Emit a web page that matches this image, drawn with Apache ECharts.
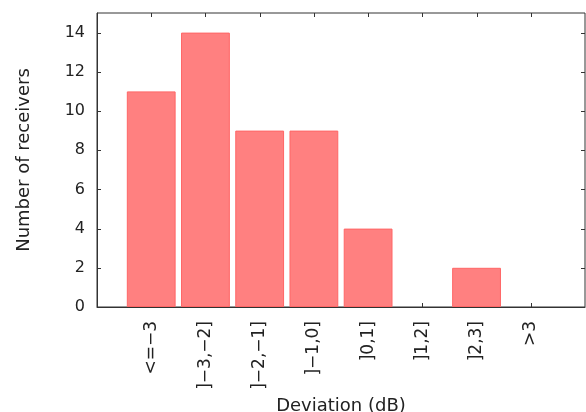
<!DOCTYPE html>
<html>
<head>
<meta charset="utf-8">
<script src="https://cdn.jsdelivr.net/npm/echarts@6/dist/echarts.min.js"></script>
<style>
html, body { margin: 0; padding: 0; background: #fff; }
#main { width: 586px; height: 412px; }
</style>
</head>
<body>
<div id="main"></div>
<script>
// 偏差区间
var categories = ['<=\u22123', ']\u22123,\u22122]', ']\u22122,\u22121]', ']\u22121,0]', ']0,1]', ']1,2]', ']2,3]', '>3'];
// 接收机数量
var counts = [11, 14, 9, 9, 4, 0, 2, 0];
var yTicks = [0, 2, 4, 6, 8, 10, 12, 14];

var font = "'DejaVu Sans', sans-serif";
var tickLen = 4;

// 两端留空，与原图一致
var axisData = [''].concat(categories, ['']);
var barData = [null].concat(counts.map(function(v) {
	return v === 0 ? '-' : v;
}), [null]);

// 朝内的刻度（上下、左右都画）
function tickLine(x1, y1, x2, y2) {
	return {
		type : 'line',
		shape : { x1 : x1, y1 : y1, x2 : x2, y2 : y2 },
		style : { stroke : '#333', lineWidth : 1 }
	};
}
function renderXTick(params, api) {
	var cs = params.coordSys;
	var x = Math.round(api.coord([api.value(0), 0])[0]) + 0.5;
	return {
		type : 'group',
		children : [
			tickLine(x, cs.y + cs.height, x, cs.y + cs.height - tickLen),
			tickLine(x, cs.y, x, cs.y + tickLen)
		]
	};
}
function renderYTick(params, api) {
	var cs = params.coordSys;
	var y = Math.round(api.coord([0, api.value(1)])[1]) + 0.5;
	return {
		type : 'group',
		children : [
			tickLine(cs.x, y, cs.x + tickLen, y),
			tickLine(cs.x + cs.width, y, cs.x + cs.width - tickLen, y)
		]
	};
}

var chart = echarts.init(document.getElementById('main'));
var option = {
	animation : false,
	grid : {
		left : 97,
		right : 1,
		top : 13,
		bottom : 105,
		show : true,
		borderColor : '#333',
		borderWidth : 1,
		containLabel : false,
		outerBoundsMode : 'none'
	},
	xAxis : {
		type : 'category',
		data : axisData,
		boundaryGap : false,
		name : 'Deviation (dB)',
		nameLocation : 'middle',
		nameGap : 86,
		nameTextStyle : {
			fontFamily : font,
			fontSize : 18,
			color : '#222'
		},
		axisLine : {
			onZero : false,
			lineStyle : { color : '#333' }
		},
		axisTick : { show : false },
		axisLabel : {
			rotate : 90,
			margin : 14,
			interval : 0,
			fontFamily : font,
			fontSize : 17,
			color : '#222'
		},
		splitLine : { show : false }
	},
	yAxis : {
		type : 'value',
		min : 0,
		max : 15,
		interval : 2,
		name : 'Number of receivers',
		nameLocation : 'middle',
		nameGap : 64,
		nameTextStyle : {
			fontFamily : font,
			fontSize : 18,
			color : '#222'
		},
		axisLine : {
			show : true,
			onZero : false,
			lineStyle : { color : '#333' }
		},
		axisTick : { show : false },
		axisLabel : {
			margin : 12,
			fontFamily : font,
			fontSize : 16,
			color : '#222',
			formatter : function(v) {
				return yTicks.indexOf(v) >= 0 ? String(v) : '';
			}
		},
		splitLine : { show : false }
	},
	series : [ {
		type : 'custom',
		silent : true,
		z : 1,
		renderItem : renderXTick,
		data : categories.map(function(c, i) {
			return [ i + 1, 0 ];
		})
	}, {
		type : 'custom',
		silent : true,
		z : 1,
		renderItem : renderYTick,
		data : yTicks.map(function(v) {
			return [ 0, v ];
		})
	}, {
		name : 'Number of receivers',
		type : 'bar',
		z : 2,
		barWidth : '90%',
		itemStyle : {
			color : '#ff8080',
			borderColor : '#ff6666',
			borderWidth : 1
		},
		data : barData
	} ]
};
chart.setOption(option);
</script>
</body>
</html>
